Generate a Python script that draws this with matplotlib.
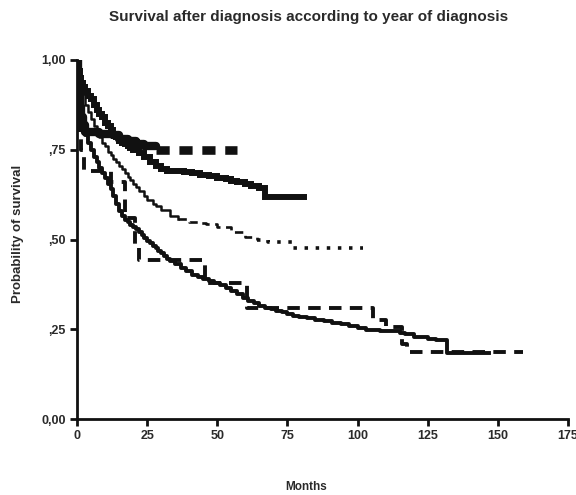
import matplotlib
matplotlib.use("Agg")
import matplotlib.pyplot as plt
import numpy as np

plt.rcParams["font.family"] = ["Liberation Sans", "DejaVu Sans"]
plt.rcParams["lines.scale_dashes"] = False

# ── Kaplan-Meier curves (months, survival) ──
a_months = [0, 0.3, 0.6, 1, 1.5, 2, 3, 8, 13, 15, 18, 21, 24, 28, 57]
a_surv = [1.0, 0.95, 0.91, 0.87, 0.84, 0.82, 0.80, 0.795, 0.79, 0.78, 0.775, 0.765, 0.76,
          0.75, 0.75]

b_months = [0, 0.5, 1, 1.5, 2, 3, 4, 5, 6, 7, 8, 9, 10, 11, 12, 13, 14, 15, 16, 17, 18, 19,
            20, 22, 24, 26, 28, 30, 32, 35, 38, 41, 44, 47, 50, 53, 55, 57, 60, 62, 65, 67, 81]
b_surv = [1.0, 0.97, 0.95, 0.935, 0.925, 0.915, 0.90, 0.89, 0.875, 0.86, 0.85, 0.84, 0.825,
          0.815, 0.805, 0.795, 0.785, 0.775, 0.77, 0.765, 0.76, 0.755, 0.75, 0.74, 0.73,
          0.715, 0.705, 0.697, 0.692, 0.69, 0.688, 0.684, 0.68, 0.676, 0.672, 0.668, 0.664,
          0.659, 0.654, 0.648, 0.644, 0.617, 0.617]

c_months = [0, 0.5, 1, 1.5, 2, 3, 4, 5, 6, 7, 8, 9, 10, 11, 12, 13, 14, 15, 16, 17, 18, 19,
            20, 21, 22, 24, 25, 27, 28, 30, 33, 36, 40, 43, 46, 50, 55, 60, 64, 68, 77, 102]
c_surv = [1.0, 0.96, 0.94, 0.92, 0.905, 0.875, 0.855, 0.835, 0.815, 0.80, 0.785, 0.77,
          0.76, 0.745, 0.735, 0.725, 0.715, 0.705, 0.695, 0.685, 0.675, 0.665, 0.655, 0.645,
          0.635, 0.62, 0.61, 0.60, 0.593, 0.583, 0.566, 0.558, 0.55, 0.546, 0.543, 0.535,
          0.52, 0.508, 0.50, 0.493, 0.477, 0.477]

d_months = [0, 0.3, 0.6, 1, 1.5, 2, 3, 4, 5, 6, 7, 8, 9, 10, 11, 12, 13, 14, 15, 16, 17,
            18, 19, 20, 21, 22, 23, 24, 25, 26, 27, 28, 29, 30, 31, 32, 33, 35, 37, 39, 41,
            43, 45, 47, 49, 51, 53, 55, 57, 59, 61, 63, 65, 67, 69, 71, 73, 75, 77, 79, 82,
            85, 88, 91, 94, 97, 100, 103, 108, 112, 115, 117, 120, 125, 128, 132, 147]
d_surv = [1.0, 0.95, 0.90, 0.86, 0.83, 0.81, 0.79, 0.77, 0.75, 0.73, 0.715, 0.70, 0.685,
          0.67, 0.655, 0.64, 0.62, 0.60, 0.58, 0.565, 0.555, 0.548, 0.54, 0.535, 0.528,
          0.52, 0.512, 0.505, 0.497, 0.49, 0.483, 0.476, 0.469, 0.462, 0.455, 0.447, 0.44,
          0.432, 0.422, 0.412, 0.402, 0.396, 0.39, 0.384, 0.378, 0.372, 0.366, 0.357, 0.347,
          0.337, 0.328, 0.322, 0.316, 0.31, 0.306, 0.302, 0.297, 0.292, 0.287, 0.283, 0.28,
          0.277, 0.272, 0.268, 0.264, 0.26, 0.254, 0.248, 0.246, 0.244, 0.24, 0.236, 0.228,
          0.224, 0.22, 0.183, 0.183]

e_months = [0, 0.5, 1, 1.4, 2.5, 12, 17, 20.5, 22, 45.6, 60.5, 105.5, 110, 116, 117.5, 159]
e_surv = [1.0, 0.88, 0.80, 0.75, 0.69, 0.66, 0.56, 0.48, 0.443, 0.38, 0.31, 0.275, 0.255,
          0.21, 0.187, 0.187]

x_ticks = [0, 25, 50, 75, 100, 125, 150, 175]
y_ticks = [0.0, 0.25, 0.5, 0.75, 1.0]
y_ticklabels = ["0,00", ",25", ",50", ",75", "1,00"]

INK = "#111111"
TXT = "#2a2a2a"


def split_step(ax, months, surv, cuts, styles):
    # one survival curve drawn in pieces, each piece with its own look
    m = np.array(months); s = np.array(surv)
    edges = [0] + [int(np.searchsorted(m, c)) for c in cuts] + [len(m) - 1]
    for (i0, i1), kw in zip(zip(edges[:-1], edges[1:]), styles):
        ax.step(m[i0:i1 + 1], s[i0:i1 + 1], where="post", color=INK, **kw)


fig = plt.figure(figsize=(5.76, 4.95), dpi=100)
ax = fig.add_axes([77 / 576, 76 / 495, 491 / 576, 359 / 495])

split_step(ax, a_months, a_surv, [28],
           [dict(lw=6.0, solid_capstyle="butt"),
            dict(lw=6.2, ls=(0, (9.5, 7.0)), dash_capstyle="butt")])
ax.step(b_months, b_surv, where="post", color=INK, lw=4.3, solid_joinstyle="miter")
ax.step(d_months, d_surv, where="post", color=INK, lw=2.8)
ax.step(e_months, e_surv, where="post", color=INK, lw=2.8,
        ls=(0, (9.0, 6.0)), dash_capstyle="butt")
# thin curve: looks solid early, then dashed, then dotted
split_step(ax, c_months, c_surv, [36, 62],
           [dict(lw=1.8),
            dict(lw=1.9, ls=(0, (6.0, 4.0))),
            dict(lw=2.6, ls=(0, (2.5, 5.5)), dash_capstyle="butt")])

ax.set_xlim(0, 175)
ax.set_ylim(0, 1.0)
ax.set_xticks(x_ticks)
ax.set_yticks(y_ticks)
ax.set_yticklabels(y_ticklabels)
for s in ["top", "right"]:
    ax.spines[s].set_visible(False)
for s in ["left", "bottom"]:
    ax.spines[s].set_linewidth(2.0)
    ax.spines[s].set_color(INK)
ax.tick_params(direction="out", length=5, width=2.0, color=INK,
               labelsize=9, labelcolor=TXT, pad=3)
for lab in ax.get_xticklabels() + ax.get_yticklabels():
    lab.set_fontweight("bold")

ax.set_xlabel("Months", fontsize=8.5, fontweight="bold", color=TXT, va="center")
ax.xaxis.set_label_coords(0.466, -0.19)
ax.set_ylabel("Probability of survival", fontsize=9.5, fontweight="bold", color=TXT,
              va="center")
ax.yaxis.set_label_coords(-0.12, 0.515)
fig.text(0.536, 0.966, "Survival after diagnosis according to year of diagnosis",
         ha="center", va="center", fontsize=11, fontweight="bold", color=TXT)

plt.savefig("out.png", dpi=100)
plt.close()
